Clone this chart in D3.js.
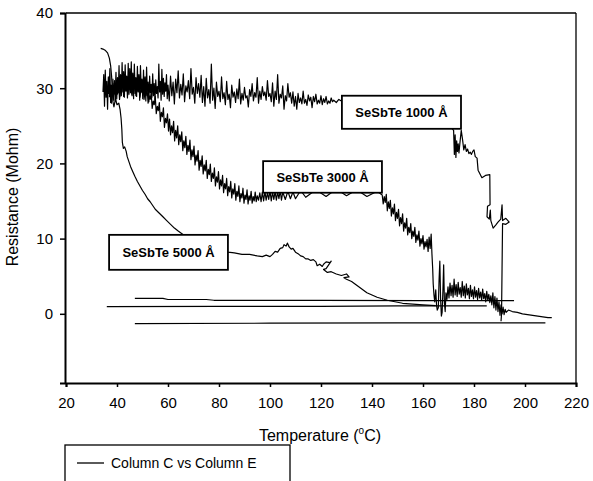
<!DOCTYPE html>
<html><head><meta charset="utf-8">
<script src="https://cdn.jsdelivr.net/npm/d3@7"></script>
<style>body{margin:0;background:#fff}svg{display:block}text{font-family:"Liberation Sans",Arial,sans-serif;fill:#000}</style>
</head><body><svg id="c" width="593" height="481"></svg>
<script>
// ---- data ----
const xTicks = [20,40,60,80,100,120,140,160,180,200,220];
const yTicks = [0,10,20,30,40];
const xTitle = "Temperature (";
const yTitle = "Resistance (Mohm)";
const legendLabel = "Column C vs Column E";
const filmLabels = ["SeSbTe 1000 Å","SeSbTe 3000 Å","SeSbTe 5000 Å"];

// SeSbTe 1000 Å heating
const film1000 = [[34.5,29.5],[34.8,31.8],[35.1,27.6],[35.4,32.4],[35.7,28.8],[36.0,30.9],[36.3,27.2],[36.6,31.5],[36.9,29.3],[37.2,32.6],[37.5,28.1],[37.8,30.4],[38.1,29.0],[38.4,31.2],[38.7,28.4],[39.0,30.7],[39.3,29.2],[39.6,32.1],[39.9,28.6],[40.2,31.4],[40.5,29.4],[40.8,33.0],[41.1,28.9],[41.4,31.8],[41.7,29.0],[42.0,33.4],[42.3,29.5],[42.6,32.2],[42.9,28.8],[43.2,33.1],[43.5,29.6],[43.8,31.6],[44.1,28.7],[44.4,33.3],[44.7,29.2],[45.0,32.6],[45.3,29.4],[45.6,33.5],[45.9,29.0],[46.2,32.0],[46.5,28.6],[46.8,33.2],[47.1,29.3],[47.4,31.4],[47.7,28.9],[48.0,32.9],[48.3,29.5],[48.6,31.8],[48.9,28.4],[49.2,33.0],[49.5,29.7],[49.8,31.2],[50.1,28.6],[50.4,32.4],[50.7,29.1],[51.0,31.5],[51.3,28.3],[51.6,32.8],[51.9,29.6],[52.2,30.8],[52.5,28.2],[52.8,31.6],[53.1,29.4],[53.4,30.5],[53.7,28.8],[54.0,31.9],[54.3,29.0],[54.6,30.6],[54.9,28.5],[55.2,31.1],[55.5,29.3],[55.8,30.2],[56.1,28.7],[56.4,33.2],[56.7,29.5],[57.0,30.9],[57.3,28.4],[57.6,32.5],[57.9,29.2],[58.2,31.3],[58.5,28.9],[58.8,30.7],[59.1,29.6],[59.4,31.8],[59.7,28.6],[60.0,30.4],
[60.5,28.3],[61,31.6],[61.5,29.0],[62,30.8],[62.5,27.9],[63,31.2],[63.5,29.4],[64,32.3],[64.5,28.7],[65,30.5],[65.5,29.1],[66,31.9],[66.5,28.2],[67,30.3],[67.5,29.5],[68,31.0],[68.5,28.6],[69,32.6],[69.5,29.2],[70,30.1],[70.5,28.0],[71,31.4],[71.5,29.3],[72,30.6],[72.5,28.8],[73,31.7],
[73.5,28.1],[74,30.2],[74.5,27.6],[75,31.3],[75.5,28.7],[76,29.8],[76.5,28.0],[77,33.2],[77.5,28.4],[78,30.0],[78.5,27.3],[79,30.8],[79.5,28.9],[80,29.6],[80.5,28.2],[81,31.5],[81.5,28.6],[82,29.4],[82.5,27.8],[83,30.9],[83.5,28.5],[84,29.2],[84.5,27.4],[85,30.4],[85.5,28.8],[86,29.5],[86.5,28.1],[87,29.9],[87.5,28.6],[88,31.2],[88.5,27.9],[89,29.3],[89.5,28.4],[90,30.1],[90.5,28.7],[91,29.0],[91.5,27.5],[92,29.8],[92.5,28.9],[93,30.6],[93.5,28.3],[94,29.4],[94.5,28.8],[95,31.4],[95.5,28.0],[96,29.6],[96.5,28.5],[97,30.2],[97.5,29.0],[98,29.5],[98.5,28.4],[99,31.0],[99.5,28.9],[100,29.3],[100.5,28.2],[101,30.7],[101.5,27.6],[102,29.6],[102.5,28.5],[103,31.8],[103.5,28.0],[104,29.2],[104.5,28.7],[105,30.3],[105.5,27.2],[106,29.0],[106.5,28.3],[107,30.6],[107.5,28.8],[108,29.4],
[108.5,28.0],[109,29.5],[109.5,27.6],[110,28.9],[110.5,27.2],[111,29.3],[111.5,28.1],[112,28.7],[112.5,27.9],[113,29.6],[113.5,28.0],[114,28.5],[114.5,27.7],[115,29.1],[115.5,28.3],[116,28.8],[116.5,27.4],[117,28.9],[117.5,28.2],[118,29.2],[118.5,27.9],[119,28.4],[119.5,28.0],[120,29.0],[120.5,27.8],[121,28.6],[121.5,28.1],[122,28.9],[122.5,27.9],[123,28.3],[123.5,28.0],[124,28.7],[124.5,28.2],[125,28.4],[126,28.1],[127,28.5],[128,28.3],
[135,28.2],[145,27.8],[155,27.0],[165,26.0],[170,25.2],
[172,24.4],[172.3,21.2],[172.6,23.8],[172.9,20.8],[173.2,23.0],[173.5,21.6],[173.8,22.6],[174.1,21.4],[174.5,22.8],[175,24.4],[175.5,23.2],[176,21.8],[176.5,22.5],[177,21.6],[177.5,21.9],[178,21.3],[178.5,21.5],[179,21.2],[179.5,21.6],[180,21.8],
[180.5,20.9],[181.2,20.7],[181.6,19.1],[183.1,18.1],[184.5,18.4],[186.2,18.5],[186.3,14.5],[185.3,14.3],[185.1,12.9],[186.0,12.6],[186.4,13.8],[186.6,12.4],[187.5,11.4],[188.5,11.8],[189.4,12.2],[190.5,12.6],[191,14.5],[191.2,12.4],[192.5,12.7],[193.8,12.2],[192.5,11.9],[191.2,12.0],[191.0,6.0],[190.8,0.0],[190.6,-1.0]];

// SeSbTe 3000 Å heating
const film3000 = [[37,28.8],[37.4,30.4],[37.8,28.0],[38.2,29.6],[38.6,28.9],[39,31.0],[39.4,28.3],[39.8,29.9],[40.2,29.2],[40.6,30.8],[41,28.5],[41.4,30.1],[41.8,29.6],[42.2,31.3],[42.6,28.9],[43,30.2],[43.4,29.7],[43.8,31.4],[44.2,29.1],[44.6,30.4],[45,29.8],[45.4,31.5],[45.8,29.2],[46.2,30.3],[46.6,29.9],[47,31.3],[47.4,29.0],[47.8,30.1],[48.2,29.6],[48.6,31.0],[49,28.8],[49.4,29.9],[49.8,29.4],[50.2,30.6],[50.6,28.5],[51,29.5],[51.4,29.0],[51.8,30.0],[52.2,28.0],[52.6,29.0],[53,28.5],[53.4,29.4],[53.8,27.3],[54.2,28.3],[54.6,27.8],[55,28.9],[55.4,26.6],[55.8,27.6],[56.2,27.0],[56.6,28.1],[57,25.6],[57.4,26.8],[57.8,26.2],[58.2,27.4],[58.6,24.8],[59,26.0],[59.4,25.4],[59.8,26.6],
[60.2,24.3],[60.6,25.9],[61,23.8],[61.4,25.0],[61.8,24.1],[62.2,25.6],[62.6,23.0],[63,24.4],[63.4,23.4],[63.8,25.0],[64.2,22.5],[64.6,23.8],[65,22.9],[65.4,24.2],[65.8,21.7],[66.2,23.0],[66.6,22.1],[67,23.6],[67.4,21.2],[67.8,22.4],[68.2,21.6],[68.6,23.1],[69,20.5],[69.4,21.8],[69.8,20.9],[70.2,22.3],[70.6,19.8],[71,21.1],[71.4,20.3],[71.8,21.7],[72.2,19.1],[72.6,20.4],[73,19.6],[73.4,21.0],[73.8,18.6],[74.2,19.8],[74.6,19.0],[75,20.4],[75.4,18.0],[75.8,19.2],[76.2,18.5],[76.6,19.9],[77,17.6],[77.4,18.7],[77.8,18.0],[78.2,19.4],[78.6,17.0],[79,18.2],[79.4,17.5],[79.8,18.9],[80.2,16.6],[80.6,17.8],[81,17.0],[81.4,18.4],[81.8,16.1],[82.2,17.3],[82.6,16.6],[83,18.0],[83.4,15.7],[83.8,16.9],[84.2,16.2],[84.6,17.6],[85,15.4],[85.4,16.6],[85.8,15.9],[86.2,17.3],[86.6,15.1],[87,16.3],[87.4,15.6],[87.8,17.0],[88.2,14.9],[88.6,16.0],[89,15.4],[89.4,16.7],[89.8,14.7],[90.2,15.8],[90.6,15.2],[91,16.5],[91.4,14.6],[91.8,15.7],[92.2,15.1],[92.6,16.3],[93,14.7],[93.4,15.6],[93.8,15.0],[94.2,16.2],[94.6,14.9],[95,15.7],[95.5,15.1],[96,16.1],[96.5,14.9],[97,16.2],[97.5,15.0],[98,16.3],[98.5,15.1],[99,16.1],[99.5,15.2],[100,16.4],[100.5,15.0],[101,16.2],[101.5,15.2],[102,16.3],[102.5,15.1],[103,16.2],[103.5,15.3],[104,16.4],[104.5,15.1],[105,16.2],[106,15.2],[107,16.3],[108,15.3],[109,16.2],[110,15.3],[112,16.4],[114,15.5],[118,16.5],[122,15.6],[126,16.6],[130,15.7],[134,16.5],[138,15.6],[142,16.3],
[144,15.8],[144.4,14.6],[144.8,15.6],[145.2,14.8],[145.6,15.9],[146,13.7],[146.4,14.9],[146.8,14.0],[147.2,15.1],[147.6,13.0],[148,14.1],[148.4,13.3],[148.8,14.6],[149.2,12.4],[149.6,13.5],[150,12.7],[150.4,13.9],[150.8,11.7],[151.2,12.8],[151.6,12.0],[152,13.3],[152.4,11.0],[152.8,12.1],[153.2,11.4],[153.6,12.7],[154,10.5],[154.4,11.5],[154.8,10.8],[155.2,12.0],[155.6,10.0],[156,11.0],[156.4,10.3],[156.8,11.5],[157.2,9.5],[157.6,10.5],[158,9.8],[158.4,11.0],[158.8,9.0],[159.2,10.0],[159.6,9.3],[160,10.4],[160.4,8.6],[160.8,9.6],[161.2,8.9],[161.6,9.9],[162,8.3],[162.4,10.2],[162.8,8.7],[163.2,10.6],[163.5,8.0],[163.8,6.0],[164,4.0],[164.3,2.5],[164.6,1.6],[165,3.2],[165.3,1.2],[165.6,0.5],[166,0.8],[166.3,4.5],[166.6,7.0],[166.9,2.0],[167.2,-0.3],[167.5,0.2],[167.8,3.0],[168.1,6.5],[168.4,1.4],[168.7,0.3],[169,2.8],[169.4,1.9],[169.8,3.6],[170.2,2.1],[170.6,4.1],[171,2.4],[171.4,3.8],[171.8,2.2],[172.2,4.6],[172.6,2.5],[173,3.9],[173.4,2.3],[173.8,4.2],[174.2,2.6],[174.6,3.5],[175,2.2],[175.4,4.3],[175.8,2.4],[176.2,3.7],[176.6,2.1],[177,4.0],[177.4,2.5],[177.8,3.4],[178.2,2.0],[178.6,3.8],[179,2.3],[179.4,3.2],[179.8,2.0],[180.2,3.6],[180.6,2.2],[181,3.1],[181.4,1.9],[181.8,3.4],[182.2,2.1],[182.6,2.9],[183,1.8],[183.4,3.3],[183.8,2.0],[184.2,2.7],[184.6,1.6],[185,3.0],[185.4,1.8],[185.8,2.6],[186.2,1.5],[186.6,2.4],[187,1.2],[187.4,2.8],[187.8,0.8],[188.2,2.3],[188.6,0.5],[189,2.1],[189.4,0.3],[189.8,1.6],[190.2,-0.2],[190.6,1.2],[191,0.0],[191.4,0.9],[191.8,-0.1],[192.2,0.6],[192.6,0.2],[193.5,0.5],[195,0.3],[197,0.2],[199,0.0],[201,-0.1],[203,-0.2],[205,-0.3],[207,-0.4],[209,-0.5],[210.5,-0.5]];

// SeSbTe 5000 Å heating
const film5000 = [[33.6,35.3],[34.5,35.2],[35.5,35.0],[36.3,34.7],[37.0,34.0],[37.5,33.0],[37.9,31.5],[38.2,29.5],[38.4,28.2],[38.8,27.5],[39.4,28.6],[40.0,27.8],[40.7,28.0],[41.2,27.2],[41.6,26.0],[41.9,24.5],[42.1,22.8],[42.5,22.0],[43.0,22.2],[43.6,21.6],[44.0,20.9],[44.6,20.3],[45.3,19.6],[46.2,18.9],[47.0,18.3],[48.0,17.6],[49.0,17.0],[50.0,16.4],[51.0,15.9],[52.0,15.3],[53.0,14.9],[54.0,14.4],[55.0,13.9],[56.5,13.4],[58.0,12.9],[59.5,12.4],[61.0,11.9],[62.5,11.4],[64.0,11.0],[66,10.5],[70,9.6],[75,9.0],[80,8.5],[83.5,8.2],[86,8.1],[89,7.9],[92,7.9],[95,7.7],[97,7.6],[98.5,7.8],[100,7.6],[101,7.9],[102,8.3],[103,8.2],[104,8.7],[105,8.8],[105.5,9.2],[106.3,9.0],[106.8,9.4],[107.5,8.9],[108.3,8.6],[109,8.7],[110,8.2],[111,8.0],[112,7.7],[113,7.6],[114,7.3],[115,7.3],[116,7.1],[117,7.2],[118,6.9],[118.5,6.4],[119.5,6.6],[120.5,6.3],[121,6.6],[122,6.9],[123.5,6.8],[124,7.0],[122,6.0],[121,5.9],[122.5,5.5],[124,5.6],[126,5.3],[128,5.1],[130,5.3],[131,4.9],[129,4.8],[130,4.6],[132,4.3],[134,3.8],[136,3.3],[138,2.8],[140,2.5],[142,2.2],[144,2.0],[146,1.8],[149,1.6],[152,1.4],[156,1.3],[160,1.2],[165,1.1]];

// cooling traces
const coolA = [[47,2.05],[58,2.05],[60,1.9],[75,1.9],[78,1.8],[120,1.8],[160,1.75],[195.7,1.75]];
const coolB = [[36,0.95],[80,0.98],[120,1.0],[150,1.05],[185,1.05]];
const coolC = [[47,-1.3],[100,-1.25],[150,-1.2],[208,-1.2]];

// annotation boxes (data-unit corners: T0,T1,R0,R1)
const boxes = [[128.2,174.9,29.0,24.6],[97.3,143.9,20.3,16.1],[36.9,83.5,10.5,5.85]];

// ---- chart ----
const svg = d3.select("#c");
const x = d3.scaleLinear().domain([20,220]).range([66,576]);
const y = d3.scaleLinear().domain([-9.2,40]).range([383,13]);
const line = d3.line().x(d=>x(d[0])).y(d=>y(d[1]));

[film1000,film3000,film5000,coolA,coolB,coolC].forEach(s=>{
  svg.append("path").attr("d",line(s)).attr("fill","none").attr("stroke","#000").attr("stroke-width",1.2).attr("stroke-linejoin","round");
});

// frame
svg.append("line").attr("x1",x(20)).attr("x2",x(220)).attr("y1",y(40)).attr("y2",y(40)).attr("stroke","#000").attr("stroke-width",1.3);
svg.append("line").attr("x1",x(220)).attr("x2",x(220)).attr("y1",y(40)).attr("y2",y(-9.2)).attr("stroke","#000").attr("stroke-width",1.3);

const ax = svg.append("g").attr("transform",`translate(0,${y(-9.2)})`)
  .call(d3.axisBottom(x).tickValues(xTicks).tickSize(4).tickPadding(10).tickFormat(d3.format("d")));
const ay = svg.append("g").attr("transform",`translate(${x(20)-1},0)`)
  .call(d3.axisLeft(y).tickValues(yTicks).tickSize(5).tickPadding(7).tickFormat(d3.format("d")));
[ax,ay].forEach(g=>{
  g.select(".domain").attr("stroke-width",2).attr("stroke","#000");
  g.selectAll(".tick line").attr("stroke","#000").attr("stroke-width",1.5);
  g.selectAll("text").attr("font-size",15).attr("font-family","'Liberation Sans',Arial,sans-serif").attr("fill","#000");
});

// annotation boxes
boxes.forEach((b,i)=>{
  const x0=x(b[0]), x1=x(b[1]), y0=y(b[2]), y1=y(b[3]);
  svg.append("rect").attr("x",x0).attr("y",y0).attr("width",x1-x0).attr("height",y1-y0)
    .attr("fill","#fff").attr("stroke","#000").attr("stroke-width",1.8);
  svg.append("text").attr("x",(x0+x1)/2).attr("y",(y0+y1)/2+5).attr("text-anchor","middle")
    .attr("font-size",13).attr("font-weight","bold").text(filmLabels[i]);
});

// axis titles
const xt = svg.append("text").attr("x",320).attr("y",441).attr("text-anchor","middle").attr("font-size",16);
xt.append("tspan").text(xTitle);
xt.append("tspan").attr("font-size",10).attr("dy",-7).text("o");
xt.append("tspan").attr("dy",7).text("C)");
svg.append("text").attr("transform","translate(18,197) rotate(-90)").attr("text-anchor","middle").attr("font-size",16).text(yTitle);

// legend
svg.append("rect").attr("x",65).attr("y",445).attr("width",225).attr("height",60).attr("fill","none").attr("stroke","#000").attr("stroke-width",1.3);
svg.append("line").attr("x1",77).attr("x2",104).attr("y1",463).attr("y2",463).attr("stroke","#000").attr("stroke-width",1.3);
svg.append("text").attr("x",111).attr("y",468).attr("font-size",14).text(legendLabel);
</script></body></html>
